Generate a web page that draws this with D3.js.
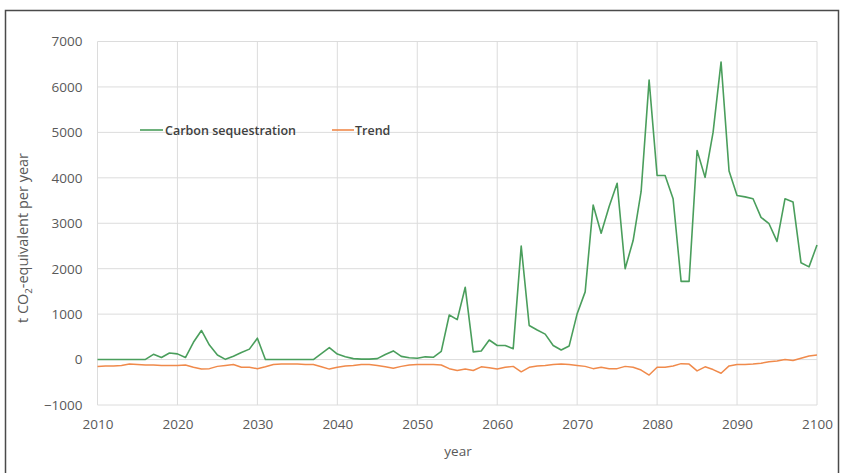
<!DOCTYPE html>
<html><head><meta charset="utf-8">
<script src="https://cdn.jsdelivr.net/npm/d3@7/dist/d3.min.js"></script>
<style>body{margin:0;background:#fff}svg{display:block}</style>
</head><body>
<svg id="c" width="843" height="473"></svg>
<script>
const years = d3.range(2010, 2101);
const sequestration = [
  0,0,0,0,0,0,5,115,45,145,125,45,380,640,320,100,5,75,155,230,470,
  0,0,0,0,0,0,0,130,265,120,60,20,10,10,20,110,190,70,40,30,
  60,50,180,980,880,1590,170,190,430,310,310,240,2500,750,650,560,310,210,300,1010,
  1490,3400,2780,3370,3880,2000,2620,3700,6150,4050,4050,3540,1720,1720,4600,4010,5000,6550,4150,3610,
  3580,3540,3130,2990,2600,3540,3470,2130,2040,2520
];
const trend = [
  -150,-140,-140,-130,-100,-110,-120,-120,-130,-130,-130,-120,-170,-210,-200,-150,-130,-110,-170,-170,-200,
  -160,-110,-100,-100,-100,-110,-110,-160,-210,-170,-140,-130,-110,-110,-130,-160,-190,-150,-120,-110,
  -110,-110,-120,-200,-240,-210,-240,-160,-180,-210,-170,-150,-270,-170,-140,-130,-110,-100,-110,-130,
  -150,-200,-170,-200,-200,-150,-170,-230,-340,-170,-170,-140,-90,-100,-250,-160,-220,-300,-140,-110,
  -110,-100,-80,-50,-30,0,-20,30,80,100
];
const yTicks = [-1000,0,1000,2000,3000,4000,5000,6000,7000];
const xTicks = [2010,2020,2030,2040,2050,2060,2070,2080,2090,2100];
const seriesNames = ["Carbon sequestration", "Trend"];
const colors = ["#4a9e5c", "#f08a4b"];

const svg = d3.select("#c");
const L = 97.5, R = 817, T = 41.5, B = 405;
const x = d3.scaleLinear().domain([2010, 2100]).range([L, R]);
const y = d3.scaleLinear().domain([-1000, 7000]).range([B, T]);
const font = "'Open Sans', sans-serif";

// outer frame
svg.append("rect").attr("x", 5.5).attr("y", 10.5).attr("width", 833).attr("height", 480)
  .attr("fill", "none").attr("stroke", "#4a4a4a").attr("stroke-width", 1.5);

// gridlines
svg.append("g").selectAll("line").data(yTicks).join("line")
  .attr("x1", L).attr("x2", R).attr("y1", d => y(d)).attr("y2", d => y(d))
  .attr("stroke", "#dcdcdc").attr("stroke-width", 1);
svg.append("g").selectAll("line").data(xTicks).join("line")
  .attr("y1", T).attr("y2", B).attr("x1", d => x(d)).attr("x2", d => x(d))
  .attr("stroke", "#dcdcdc").attr("stroke-width", 1);

// axes via d3 axis
const yAxis = svg.append("g").attr("transform", `translate(${L},0)`)
  .call(d3.axisLeft(y).tickValues(yTicks).tickSize(0).tickPadding(15).tickFormat(d3.format("d")));
yAxis.select(".domain").remove();
yAxis.selectAll("text").attr("font-family", font).attr("font-size", 13.5).attr("fill", "#595959");

const xAxis = svg.append("g").attr("transform", `translate(0,${B})`)
  .call(d3.axisBottom(x).tickValues(xTicks).tickSize(0).tickPadding(14).tickFormat(d3.format("d")));
xAxis.select(".domain").remove();
xAxis.selectAll("text").attr("font-family", font).attr("font-size", 13.5).attr("fill", "#595959");

// lines
const line = d3.line().x((d, i) => x(years[i])).y(d => y(d));
svg.append("path").datum(trend).attr("d", line).attr("fill", "none")
  .attr("stroke", colors[1]).attr("stroke-width", 1.5).attr("stroke-linejoin", "round");
svg.append("path").datum(sequestration).attr("d", line).attr("fill", "none")
  .attr("stroke", colors[0]).attr("stroke-width", 1.6).attr("stroke-linejoin", "round");

// axis titles
svg.append("text").attr("x", 458).attr("y", 456).attr("text-anchor", "middle")
  .attr("font-family", font).attr("font-size", 13.5).attr("fill", "#595959").text("year");
const yt = svg.append("text").attr("transform", "translate(28,238) rotate(-90)")
  .attr("text-anchor", "middle").attr("font-family", font).attr("font-size", 14.5).attr("fill", "#595959");
yt.append("tspan").text("t CO");
yt.append("tspan").attr("font-size", 9.5).attr("dy", 4).text("2");
yt.append("tspan").attr("dy", -4).text("-equivalent per year");

// legend
const leg = [{x1: 140, x2: 163, tx: 165}, {x1: 332, x2: 354, tx: 355}];
leg.forEach((p, i) => {
  svg.append("line").attr("x1", p.x1).attr("x2", p.x2).attr("y1", 130).attr("y2", 130)
    .attr("stroke", colors[i]).attr("stroke-width", 1.6);
  svg.append("text").attr("x", p.tx).attr("y", 135).attr("font-family", font)
    .attr("font-size", 12.5).attr("font-weight", 600).attr("fill", "#404040").text(seriesNames[i]);
});
</script>
</body></html>
